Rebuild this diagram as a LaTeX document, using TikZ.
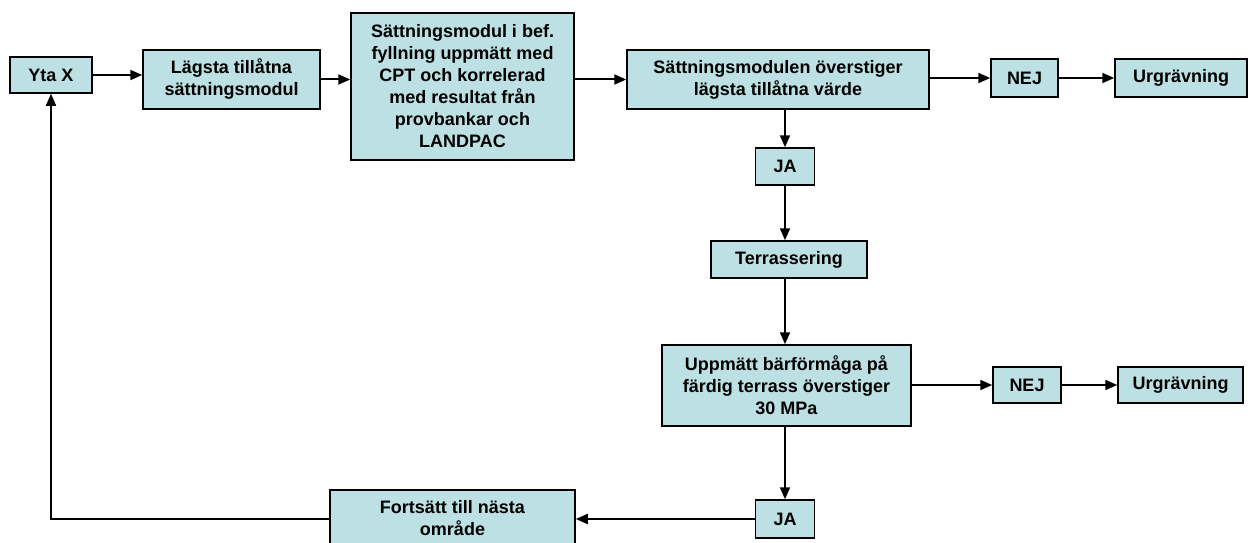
\documentclass[tikz,border=0pt]{standalone}
\usepackage{fontspec}
\setmainfont{Liberation Sans}
\usetikzlibrary{arrows.meta}
\definecolor{boxfill}{RGB}{188,224,227}
\tikzset{
  stepbox/.style={draw=black,line width=1.5pt,fill=boxfill,align=center,inner sep=0pt,
    font=\fontsize{18}{22}\selectfont\bfseries},
  flow/.style={line width=2pt,-{Triangle[length=12pt,width=10pt]}},
}

\begin{document}
\begin{tikzpicture}[x=1pt,y=-1pt]
          \useasboundingbox (0,0) rectangle (1248,543);
          % top row
          \node[stepbox,minimum width=82pt,minimum height=36pt] (ytax) at (51,75) {Yta X};
          \node[stepbox,minimum width=177pt,minimum height=59pt] (lagsta) at (231.5,79.5) {Lägsta tillåtna\\sättningsmodul};
          \node[stepbox,minimum width=223pt,minimum height=147pt] (sattmod) at (462.5,86.5) {Sättningsmodul i bef.\\fyllning uppmätt med\\CPT och korrelerad\\med resultat från\\provbankar och\\LANDPAC};
          \node[stepbox,minimum width=302pt,minimum height=59pt] (oversti) at (778,79.5) {Sättningsmodulen överstiger\\lägsta tillåtna värde};
          \node[stepbox,minimum width=67pt,minimum height=38pt] (nej1) at (1024.5,78) {NEJ};
          \node[stepbox,minimum width=132pt,minimum height=38pt] (urg1) at (1181,78) {Urgrävning};
          % middle column
          \node[stepbox,minimum width=59pt,minimum height=37pt] (ja1) at (785,166.5) {JA};
          \node[stepbox,minimum width=156pt,minimum height=37pt] (terr) at (789,259.5) {Terrassering};
          \node[stepbox,minimum width=249pt,minimum height=81pt] (uppm) at (786.5,385.5) {Uppmätt bärförmåga på\\färdig terrass överstiger\\30 MPa};
          \node[stepbox,minimum width=68pt,minimum height=36pt] (nej2) at (1027,385) {NEJ};
          \node[stepbox,minimum width=125pt,minimum height=36pt] (urg2) at (1180.5,385) {Urgrävning};
          % bottom row
          \node[stepbox,minimum width=59pt,minimum height=38pt] (ja2) at (785,519) {JA};
          \node[stepbox,minimum width=245pt,minimum height=56pt] (forts) at (452.5,518) {Fortsätt till nästa\\område};
          % connectors
          \draw[flow] (ytax.east) -- (ytax.east -| lagsta.west);
          \draw[flow] (lagsta.east) -- (lagsta.east -| sattmod.west);
          \draw[flow] (sattmod.east |- oversti) -- (oversti.west);
          \draw[flow] (oversti.east |- nej1) -- (nej1.west);
          \draw[flow] (nej1.east) -- (urg1.west);
          \draw[flow] (oversti.south -| ja1) -- (ja1.north);
          \draw[flow] (ja1.south) -- (ja1.south |- terr.north);
          \draw[flow] (terr.south -| ja1) -- (uppm.north -| ja1);
          \draw[flow] (uppm.east |- nej2) -- (nej2.west);
          \draw[flow] (nej2.east) -- (urg2.west);
          \draw[flow] (uppm.south -| ja2) -- (ja2.north);
          \draw[flow] (ja2.west) -- (ja2.west -| forts.east);
          \draw[line width=1.5pt,-{Triangle[length=12pt,width=10pt]}] (forts.west |- ja2) -| (ytax.south);
        \end{tikzpicture}
\end{document}
